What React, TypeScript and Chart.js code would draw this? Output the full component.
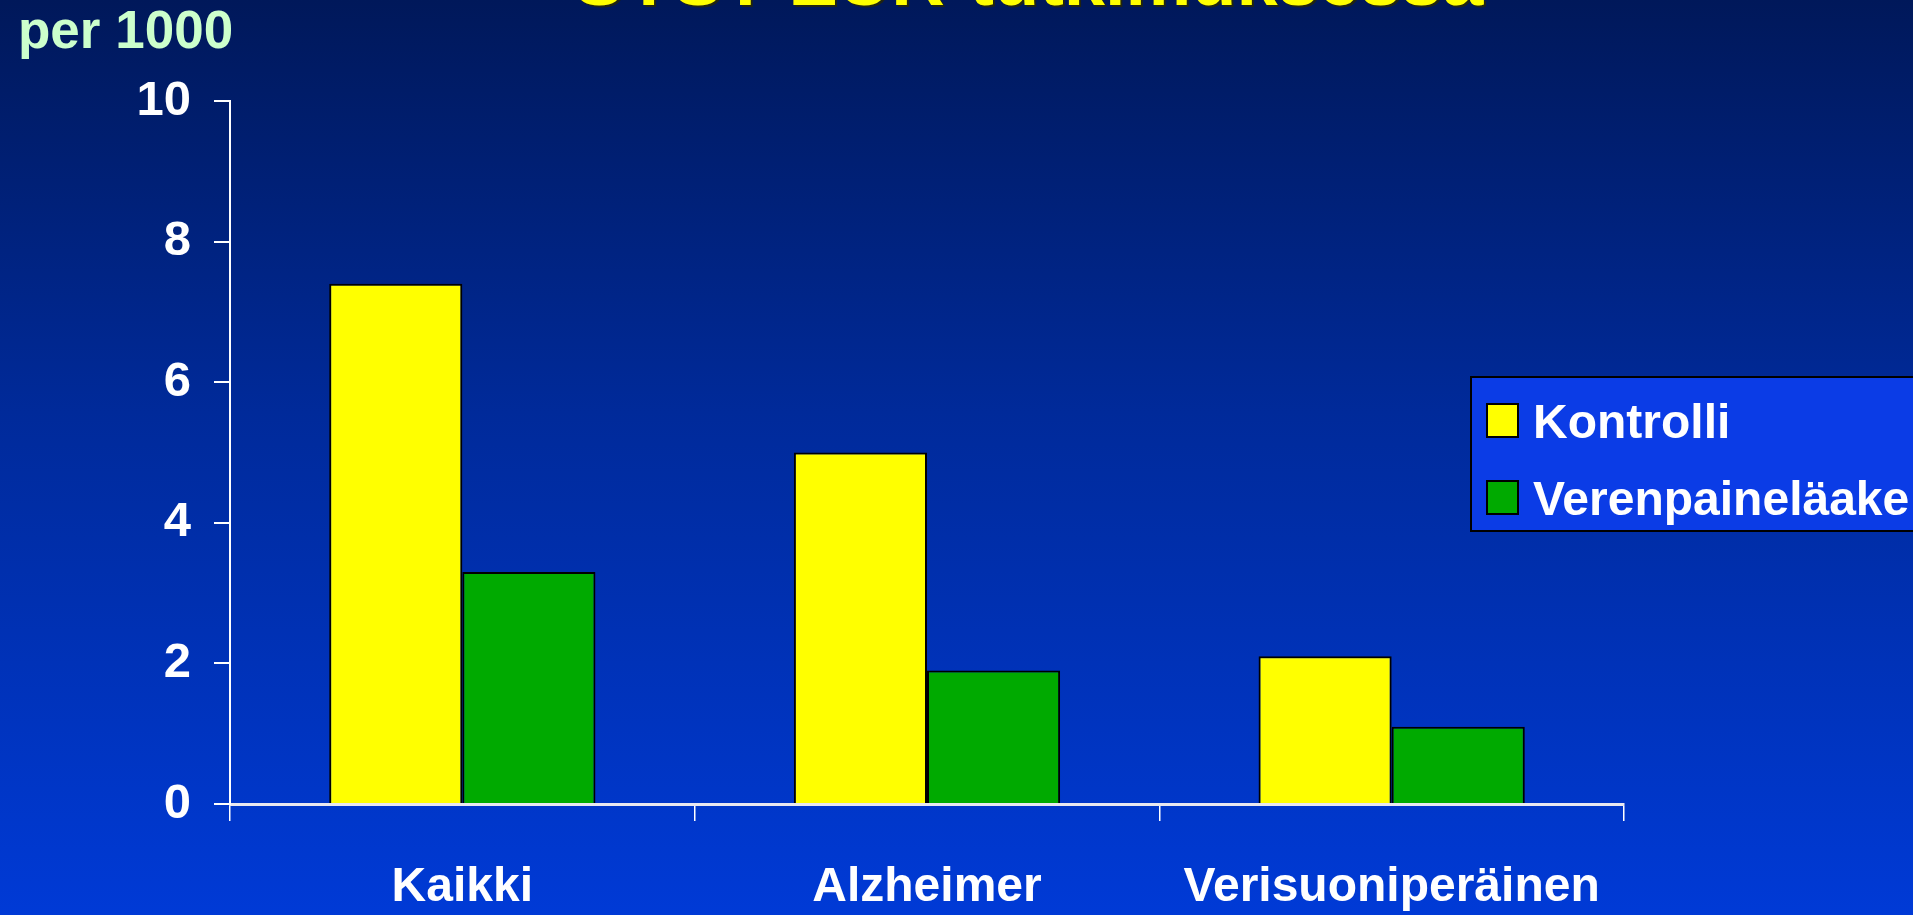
import { useEffect, useRef } from 'react';
import { Chart, registerables } from 'chart.js';

Chart.register(...registerables);

// Dementia incidence per 1000 by type and treatment group
const categories = ['Kaikki', 'Alzheimer', 'Verisuoniperäinen'];
const kontrolli = [7.4, 5.0, 2.1];
const verenpainelaake = [3.3, 1.9, 1.1];
const seriesLabels = ['Kontrolli', 'Verenpaineläake'];
const yTicks = [0, 2, 4, 6, 8, 10];
const titleText = 'SYST-EUR-tutkimuksessa';
const unitText = 'per 1000';

const W = 1913;
const H = 915;
const FONT = '"Liberation Sans", Arial, Helvetica, sans-serif';

// Title, unit caption and boxed legend drawn straight onto the canvas
const decorations = {
  id: 'decorations',
  afterDraw(chart: Chart) {
    const ctx = chart.ctx;
    ctx.save();

    // title (its upper part runs past the canvas edge)
    ctx.font = `bold 74px ${FONT}`;
    ctx.textAlign = 'center';
    ctx.textBaseline = 'alphabetic';
    ctx.shadowColor = 'rgba(40,40,0,0.8)';
    ctx.shadowOffsetX = 2;
    ctx.shadowOffsetY = 2;
    ctx.fillStyle = '#ffff00';
    ctx.fillText(titleText, 1029, 5);
    ctx.shadowColor = 'transparent';

    // unit caption
    ctx.font = `bold 53px ${FONT}`;
    ctx.textAlign = 'left';
    ctx.fillStyle = '#ccffcc';
    ctx.fillText(unitText, 18, 48);

    // legend box
    const lx = 1471;
    const ly = 377;
    const lw = 470;
    const lh = 154;
    ctx.fillStyle = '#0b3ce6';
    ctx.fillRect(lx, ly, lw, lh);
    ctx.lineWidth = 2;
    ctx.strokeStyle = '#000000';
    ctx.strokeRect(lx, ly, lw, lh);

    ctx.font = `bold 48px ${FONT}`;
    ctx.textBaseline = 'alphabetic';
    chart.data.datasets.forEach((ds: any, i: number) => {
      const sy = 404 + i * 77;
      ctx.fillStyle = ds.backgroundColor;
      ctx.fillRect(1487, sy, 31, 33);
      ctx.lineWidth = 2;
      ctx.strokeStyle = '#000000';
      ctx.strokeRect(1487, sy, 31, 33);
      ctx.fillStyle = '#ffffff';
      ctx.fillText(ds.label, 1533, sy + 34);
    });

    ctx.restore();
  },
};

export default function App() {
  const canvasRef = useRef<HTMLCanvasElement | null>(null);

  useEffect(() => {
    document.body.style.margin = '0';
    const canvas = canvasRef.current;
    if (!canvas) return;

    const chart = new Chart(canvas, {
      type: 'bar',
      data: {
        labels: categories,
        datasets: [
          {
            label: seriesLabels[0],
            data: kontrolli,
            backgroundColor: '#ffff00',
            borderColor: '#000000',
            borderWidth: 2,
          },
          {
            label: seriesLabels[1],
            data: verenpainelaake,
            backgroundColor: '#00aa00',
            borderColor: '#000000',
            borderWidth: 2,
          },
        ],
      },
      options: {
        responsive: false,
        animation: false,
        layout: { padding: { top: 101, right: 289, left: 0, bottom: 0 } },
        datasets: {
          bar: { barPercentage: 1, categoryPercentage: 0.573 },
        },
        plugins: {
          legend: { display: false },
          tooltip: { enabled: false },
          title: { display: false },
        },
        scales: {
          x: {
            grid: {
              offset: true,
              drawOnChartArea: false,
              drawTicks: true,
              tickLength: 17,
              color: '#ffffff',
              lineWidth: 1.5,
            },
            border: { display: true, color: '#e8e8f0', width: 3 },
            ticks: {
              color: '#ffffff',
              padding: 38,
              maxRotation: 0,
              autoSkip: false,
              font: { family: FONT, size: 48, weight: 'bold' },
            },
            afterFit(scale: any) {
              scale.height = 111;
            },
          },
          y: {
            min: 0,
            max: 10,
            grid: {
              drawOnChartArea: false,
              drawTicks: true,
              tickLength: 16,
              color: '#ffffff',
              lineWidth: 2,
            },
            border: { display: true, color: '#ffffff', width: 2 },
            ticks: {
              color: '#ffffff',
              padding: 23,
              font: { family: FONT, size: 49, weight: 'bold' },
            },
            afterBuildTicks(scale: any) {
              scale.ticks = yTicks.map((v) => ({ value: v }));
            },
            afterFit(scale: any) {
              scale.width = 230;
            },
          },
        },
      },
      plugins: [decorations],
    });

    return () => chart.destroy();
  }, []);

  return (
    <div
      style={{
        position: 'fixed',
        left: 0,
        top: 0,
        width: W,
        height: H,
        overflow: 'hidden',
        background: 'linear-gradient(to bottom, #00185a 0%, #002a9a 45%, #003ad6 100%)',
      }}
    >
      <canvas ref={canvasRef} width={W} height={H} style={{ display: 'block' }} />
    </div>
  );
}
